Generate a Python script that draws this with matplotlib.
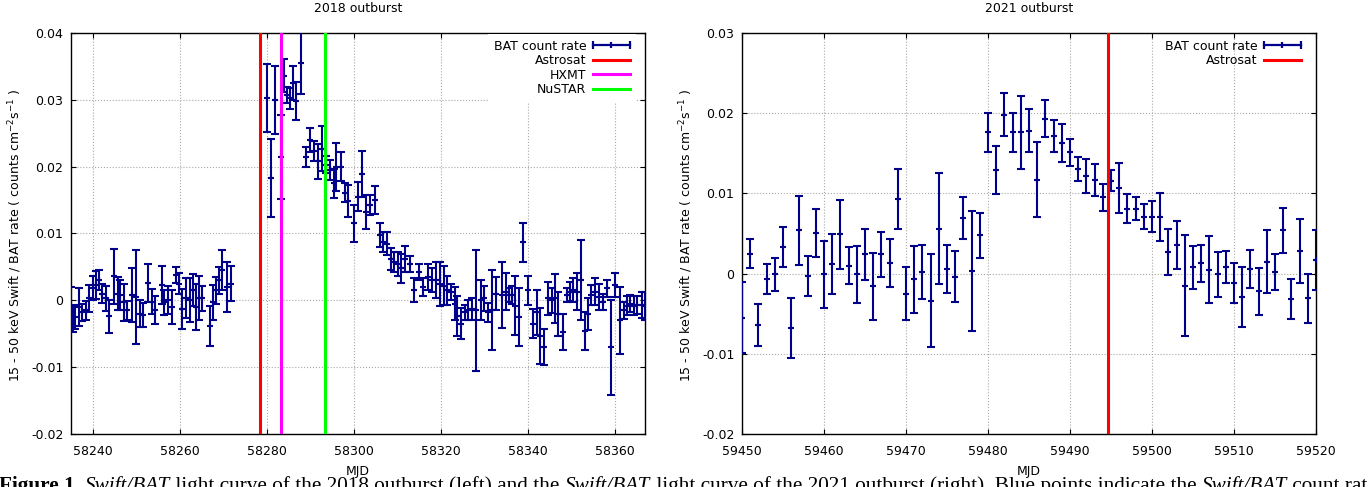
import matplotlib
matplotlib.use("Agg")
import matplotlib.pyplot as plt
from matplotlib.lines import Line2D
from matplotlib.legend_handler import HandlerBase
from matplotlib.ticker import FixedLocator, FuncFormatter

plt.rcParams['font.family'] = ['DejaVu Sans']
plt.rcParams['mathtext.default'] = 'regular'

# ---------------- 2018 outburst: Swift/BAT light curve ----------------
mjd_2018 = [
    58234.9, 58235.4, 58236.0, 58236.8, 58237.6, 58238.4, 58239.1, 58240.0,
    58240.8, 58241.5, 58242.2, 58243.0, 58243.8, 58245.0, 58245.8, 58246.3,
    58247.1, 58247.8, 58249.0, 58250.0, 58250.8, 58251.5, 58252.8, 58253.6,
    58254.4, 58255.9, 58256.5, 58257.3, 58258.2, 58259.1, 58259.8, 58260.6,
    58261.4, 58262.3, 58263.1, 58263.8, 58264.5, 58265.2, 58266.9, 58267.6,
    58268.3, 58269.1, 58269.8, 58270.8, 58271.8,
    58280.0, 58280.9, 58281.9, 58283.2, 58284.0, 58284.6, 58285.3, 58286.0,
    58286.8, 58287.9, 58289.0, 58290.0, 58290.8, 58291.9, 58292.8, 58293.7,
    58294.6, 58295.4, 58296.0, 58297.0, 58297.9, 58298.7, 58300.0, 58301.0,
    58301.9, 58302.9, 58303.8, 58304.8, 58306.1, 58306.8, 58307.7, 58308.5,
    58309.3, 58310.2, 58311.0, 58311.9, 58312.9, 58313.8, 58315.0, 58316.0,
    58317.2, 58318.1, 58318.9, 58319.8, 58320.7, 58321.5, 58322.3, 58323.2,
    58323.8, 58324.8, 58325.5, 58326.3, 58327.3, 58328.2, 58329.2, 58330.0,
    58331.0, 58331.9, 58332.7, 58334.1, 58335.0, 58335.8, 58336.3, 58337.1,
    58338.1, 58339.0, 58340.2, 58341.2, 58342.2, 58342.9, 58343.8, 58344.8,
    58345.6, 58346.3, 58347.1, 58348.1, 58349.0, 58349.8, 58350.5, 58351.3,
    58352.2, 58353.2, 58353.8, 58354.6, 58355.5, 58356.5, 58357.3, 58358.2,
    58359.2, 58360.0, 58361.3, 58362.1, 58362.8, 58363.6, 58364.4, 58365.2,
    58366.2, 58366.9,
]
rate_2018 = [
    -0.0010, -0.0028, -0.0025, -0.0010, -0.0018, -0.0015, 0.0003, 0.0018,
    0.0023, 0.0030, 0.0010, 0.0003, -0.0024, 0.0036, 0.0010, 0.0008,
    -0.0003, -0.0015, 0.0008, 0.0005, -0.0020, -0.0022, 0.0026, -0.0002,
    -0.0015, 0.0023, -0.0003, 0.0000, -0.0010, 0.0038, 0.0025, -0.0013,
    0.0003, 0.0000, 0.0015, -0.0010, 0.0003, 0.0003, -0.0038, -0.0003,
    0.0015, 0.0030, 0.0045, 0.0020, 0.0025,
    0.0303, 0.0183, 0.0300, 0.0214, 0.0336, 0.0307, 0.0302, 0.0325,
    0.0298, 0.0355, 0.0215, 0.0240, 0.0224, 0.0208, 0.0227, 0.0203,
    0.0195, 0.0175, 0.0200, 0.0200, 0.0161, 0.0148, 0.0115, 0.0155,
    0.0189, 0.0132, 0.0143, 0.0150, 0.0098, 0.0087, 0.0085, 0.0062,
    0.0058, 0.0055, 0.0048, 0.0062, 0.0055, 0.0015, 0.0043, 0.0020,
    0.0035, 0.0030, 0.0030, 0.0024, 0.0022, 0.0015, 0.0012, -0.0005,
    -0.0023, -0.0035, -0.0018, -0.0015, -0.0013, -0.0015, 0.0000, 0.0003,
    -0.0018, -0.0015, 0.0010, 0.0008, 0.0013, 0.0008, 0.0008, -0.0008,
    -0.0025, 0.0087, 0.0015, -0.0035, -0.0018, -0.0053, -0.0070, 0.0003,
    0.0000, 0.0003, -0.0020, -0.0048, 0.0008, 0.0013, 0.0015, 0.0013,
    0.0030, -0.0046, -0.0020, 0.0008, 0.0013, 0.0005, -0.0003, 0.0018,
    -0.0070, 0.0023, -0.0030, -0.0015, -0.0008, -0.0005, -0.0008, -0.0007,
    -0.0007, -0.0008,
]
err_2018 = [
    0.0030, 0.0019, 0.0018, 0.0029, 0.0013, 0.0014, 0.0020, 0.0018,
    0.0021, 0.0015, 0.0014, 0.0019, 0.0025, 0.0041, 0.0025, 0.0022,
    0.0028, 0.0014, 0.0041, 0.0070, 0.0020, 0.0018, 0.0029, 0.0019,
    0.0021, 0.0028, 0.0019, 0.0021, 0.0026, 0.0012, 0.0016, 0.0030,
    0.0030, 0.0033, 0.0024, 0.0034, 0.0033, 0.0019, 0.0030, 0.0026,
    0.0020, 0.0020, 0.0030, 0.0037, 0.0026,
    0.0051, 0.0059, 0.0051, 0.0063, 0.0025, 0.0012, 0.0015, 0.0025,
    0.0028, 0.0046, 0.0015, 0.0018, 0.0015, 0.0026, 0.0034, 0.0013,
    0.0015, 0.0022, 0.0036, 0.0022, 0.0014, 0.0024, 0.0028, 0.0022,
    0.0034, 0.0026, 0.0015, 0.0021, 0.0018, 0.0015, 0.0017, 0.0016,
    0.0015, 0.0018, 0.0022, 0.0020, 0.0012, 0.0018, 0.0012, 0.0014,
    0.0019, 0.0018, 0.0027, 0.0033, 0.0029, 0.0022, 0.0012, 0.0025,
    0.0030, 0.0023, 0.0011, 0.0015, 0.0017, 0.0090, 0.0030, 0.0019,
    0.0014, 0.0060, 0.0025, 0.0050, 0.0028, 0.0011, 0.0014, 0.0044,
    0.0044, 0.0029, 0.0022, 0.0022, 0.0034, 0.0042, 0.0027, 0.0025,
    0.0019, 0.0037, 0.0033, 0.0027, 0.0011, 0.0014, 0.0018, 0.0028,
    0.0060, 0.0028, 0.0024, 0.0015, 0.0020, 0.0020, 0.0012, 0.0013,
    0.0071, 0.0018, 0.0050, 0.0013, 0.0014, 0.0013, 0.0014, 0.0014,
    0.0020, 0.0021,
]

# ---------------- 2021 outburst: Swift/BAT light curve ----------------
mjd_2021 = list(range(59450, 59521))
rate_2021 = [
    -0.0055, 0.0025, -0.0064, -0.0007, -0.0001, 0.0033, -0.0068, 0.0054,
    -0.0003, 0.0051, -0.0001, 0.0012, 0.0049, 0.0010, -0.0001, 0.0024,
    -0.0016, 0.0024, 0.0013, 0.0093, -0.0025, -0.0007, 0.0002, -0.0034,
    0.0056, 0.0006, -0.0004, 0.0069, 0.0003, 0.0048, 0.0176, 0.0129,
    0.0198, 0.0176, 0.0176, 0.0178, 0.0117, 0.0193, 0.0171, 0.0163,
    0.0151, 0.0131, 0.0122, 0.0117, 0.0095, 0.0116, 0.0107, 0.0081,
    0.0081, 0.0071, 0.0071, 0.0071, 0.0027, 0.0036, -0.0015, 0.0008,
    0.0013, 0.0005, -0.0001, 0.0008, -0.0012, -0.0029, 0.0006, -0.0022,
    0.0015, 0.0002, 0.0054, -0.0032, 0.0028, -0.0031, 0.0017,
]
err_2021 = [
    0.0044, 0.0018, 0.0026, 0.0019, 0.0021, 0.0025, 0.0037, 0.0043,
    0.0025, 0.0030, 0.0042, 0.0037, 0.0043, 0.0023, 0.0036, 0.0032,
    0.0042, 0.0028, 0.0030, 0.0038, 0.0033, 0.0042, 0.0034, 0.0058,
    0.0069, 0.0030, 0.0032, 0.0026, 0.0075, 0.0028, 0.0024, 0.0030,
    0.0027, 0.0024, 0.0045, 0.0027, 0.0047, 0.0023, 0.0020, 0.0024,
    0.0017, 0.0015, 0.0021, 0.0020, 0.0017, 0.0013, 0.0031, 0.0018,
    0.0014, 0.0016, 0.0019, 0.0030, 0.0029, 0.0030, 0.0063, 0.0027,
    0.0023, 0.0042, 0.0028, 0.0020, 0.0025, 0.0037, 0.0024, 0.0029,
    0.0039, 0.0023, 0.0028, 0.0025, 0.0040, 0.0030, 0.0037,
]

# Pointed observations (MJD)
obs_2018_names = ['Astrosat', 'HXMT', 'NuSTAR']
obs_2018_mjd = [58278.5, 58283.3, 58293.4]
obs_2018_colors = ['#ff0000', '#ff00ff', '#00ff00']
obs_2021_names = ['Astrosat']
obs_2021_mjd = [59494.6]
obs_2021_colors = ['#ff0000']

xticks_2018 = [58240, 58260, 58280, 58300, 58320, 58340, 58360]
xticks_2021 = [59450, 59460, 59470, 59480, 59490, 59500, 59510, 59520]
yticks_2018 = [-0.02, -0.01, 0.0, 0.01, 0.02, 0.03, 0.04]
yticks_2021 = [-0.02, -0.01, 0.0, 0.01, 0.02, 0.03]

BAT_COLOR = '#00008b'
YLABEL = '15 - 50 keV Swift / BAT rate ( counts cm$^{-2}$s$^{-1}$ )'


class ErrorbarKey(HandlerBase):
    """Horizontal errorbar sample: line with end caps and a centre tick."""

    def create_artists(self, legend, orig_handle, xdescent, ydescent,
                       width, height, fontsize, trans):
        y = (height - ydescent) / 2
        x0, x1 = -xdescent, -xdescent + width
        line = Line2D([x0, x1], [y, y], color=BAT_COLOR, lw=1.6)
        caps = Line2D([x0, x1], [y, y], ls='none', marker='|', ms=6,
                      mew=1.6, color=BAT_COLOR)
        mid = Line2D([(x0 + x1) / 2], [y], ls='none', marker='|', ms=5,
                     mew=1.6, color=BAT_COLOR)
        for a in (line, caps, mid):
            a.set_transform(trans)
        return [line, caps, mid]


def yfmt(v, _):
    if abs(v) < 1e-12:
        return '0'
    return f'{v:.2f}'


def draw_panel(ax, mjd, rate, err, xlim, ylim, xticks, yticks, title,
               obs_names, obs_mjd, obs_colors, opaque_key):
    ax.errorbar(mjd, rate, yerr=err, fmt='+', color=BAT_COLOR,
                ecolor=BAT_COLOR, elinewidth=1.5, capsize=2.6, capthick=1.5,
                ms=5, mew=1.5, zorder=3)
    handles = [Line2D([], [], color=BAT_COLOR)]
    labels = ['BAT count rate']
    for name, t, c in zip(obs_names, obs_mjd, obs_colors):
        ax.axvline(t, color=c, lw=2.2, zorder=4)
        handles.append(Line2D([], [], color=c, lw=2.2))
        labels.append(name)

    ax.set_xlim(*xlim)
    ax.set_ylim(*ylim)
    ax.xaxis.set_major_locator(FixedLocator(xticks))
    ax.yaxis.set_major_locator(FixedLocator(yticks))
    ax.yaxis.set_major_formatter(FuncFormatter(yfmt))
    ax.grid(True, color='#a8a8a8', ls=':', lw=0.8, zorder=0)
    ax.set_axisbelow(True)
    ax.tick_params(direction='in', top=True, right=True, length=3.6,
                   width=0.8, labelsize=9, color='black')
    ax.tick_params(axis='x', pad=8)
    ax.tick_params(axis='y', pad=5.5)
    for s in ax.spines.values():
        s.set_linewidth(1.0)

    ax.text(0.5, 1.06, title, transform=ax.transAxes, ha='center',
            va='center', fontsize=9)
    ax.set_xlabel('MJD', fontsize=9, va='center')
    ax.xaxis.set_label_coords(0.5, -0.093)
    ax.set_ylabel(YLABEL, fontsize=9, va='center')
    ax.yaxis.set_label_coords(-0.0976, 0.495)

    leg = ax.legend(handles, labels, loc='upper right',
                    bbox_to_anchor=(0.984, 0.997), borderaxespad=0,
                    markerfirst=False, fontsize=9, handlelength=3.0,
                    handletextpad=0.5, labelspacing=0.12, borderpad=0.45,
                    frameon=opaque_key, fancybox=False,
                    handler_map={handles[0]: ErrorbarKey()})
    if opaque_key:
        frame = leg.get_frame()
        frame.set_facecolor('white')
        frame.set_edgecolor('none')
        frame.set_alpha(1.0)
    leg.set_zorder(5)


fig = plt.figure(figsize=(13.68, 4.87), dpi=100)
ax1 = fig.add_axes([71 / 1368, 53 / 487, 574 / 1368, 401 / 487])
ax2 = fig.add_axes([742 / 1368, 53 / 487, 574 / 1368, 401 / 487])

draw_panel(ax1, mjd_2018, rate_2018, err_2018, (58235, 58367), (-0.02, 0.04),
           xticks_2018, yticks_2018, '2018 outburst',
           obs_2018_names, obs_2018_mjd, obs_2018_colors, True)
draw_panel(ax2, mjd_2021, rate_2021, err_2021, (59450, 59520), (-0.02, 0.03),
           xticks_2021, yticks_2021, '2021 outburst',
           obs_2021_names, obs_2021_mjd, obs_2021_colors, False)

# Figure caption running along the bottom edge, built piece by piece
caption_parts = [
    ('Figure 1.', 'bold', 'normal'),
    (' ', 'normal', 'normal'),
    ('Swift/BAT', 'normal', 'italic'),
    (' light curve of the 2018 outburst (left) and the ', 'normal', 'normal'),
    ('Swift/BAT', 'normal', 'italic'),
    (' light curve of the 2021 outburst (right). Blue points indicate the ',
     'normal', 'normal'),
    ('Swift/BAT', 'normal', 'italic'),
    (' count rate', 'normal', 'normal'),
]
prev = None
for txt, weight, style in caption_parts:
    kw = dict(fontsize=15.3, family='Liberation Serif', fontweight=weight,
              fontstyle=style)
    if prev is None:
        prev = fig.text(-0.001, -0.0085, txt, ha='left', va='baseline', **kw)
    else:
        prev = ax2.annotate(txt, xy=(1, 0), xycoords=prev, ha='left',
                            va='bottom', annotation_clip=False, **kw)

fig.savefig('out.png', dpi=100)
